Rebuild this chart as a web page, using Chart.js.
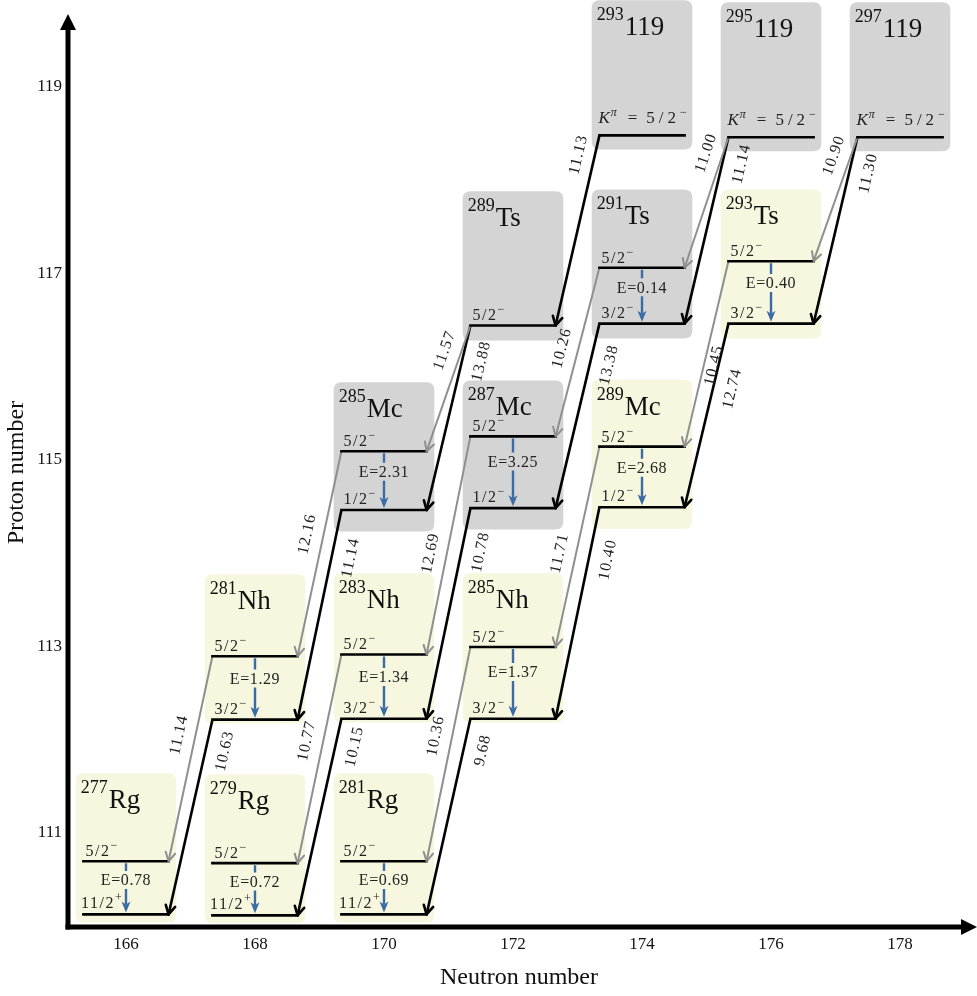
<!DOCTYPE html>
<html><head><meta charset="utf-8">
<script src="https://cdn.jsdelivr.net/npm/chart.js@4.4.1/dist/chart.umd.min.js"></script>
<style>html,body{margin:0;padding:0;background:#fff}canvas{display:block}</style>
</head><body>
<canvas id="c" width="977" height="996"></canvas>
<script>
// ---------------- data ----------------
const nuclide       = ['277Rg','279Rg','281Rg','281Nh','283Nh','285Nh','285Mc','287Mc','289Mc','289Ts','291Ts','293Ts','293119','295119','297119'];
const massNumber    = [277,279,281,281,283,285,285,287,289,289,291,293,293,295,297];
const elementSymbol = ['Rg','Rg','Rg','Nh','Nh','Nh','Mc','Mc','Mc','Ts','Ts','Ts','119','119','119'];
const protonNumber  = [111,111,111,113,113,113,115,115,115,117,117,117,119,119,119];
const neutronNumber = [166,168,170,168,170,172,170,172,174,172,174,176,174,176,178];
// level positions in the scheme (read on the proton-number axis)
const upperLevel = [110.69,110.67,110.69,112.89,112.91,112.99,115.09,115.25,115.14,null,117.06,117.13,null,null,null];
const lowerLevel = [110.12,110.11,110.12,112.21,112.22,112.22,114.46,114.48,114.49,116.44,116.46,116.46,118.48,118.46,118.46];
const upperSpin  = ['5/2−','5/2−','5/2−','5/2−','5/2−','5/2−','5/2−','5/2−','5/2−',null,'5/2−','5/2−',null,null,null];
const lowerSpin  = ['11/2+','11/2+','11/2+','3/2−','3/2−','3/2−','1/2−','1/2−','1/2−','5/2−','3/2−','3/2−','K=5/2−','K=5/2−','K=5/2−'];
const excitationE = ['0.78','0.72','0.69','1.29','1.34','1.37','2.31','3.25','2.68',null,'0.14','0.40',null,null,null];
const observed   = [1,1,1,1,1,1,0,0,1,0,0,1,0,0,0];
// alpha decays
const decayParent   = ['293119','295119','295119','297119','297119','289Ts','289Ts','291Ts','291Ts','293Ts','293Ts','285Mc','285Mc','287Mc','287Mc','289Mc','289Mc','281Nh','281Nh','283Nh','283Nh','285Nh','285Nh'];
const decayDaughter = ['289Ts','291Ts','291Ts','293Ts','293Ts','285Mc','285Mc','287Mc','287Mc','289Mc','289Mc','281Nh','281Nh','283Nh','283Nh','285Nh','285Nh','277Rg','277Rg','279Rg','279Rg','281Rg','281Rg'];
const decayToLevel  = ['lower','upper','lower','upper','lower','upper','lower','upper','lower','upper','lower','upper','lower','upper','lower','upper','lower','upper','lower','upper','lower','upper','lower'];
const qAlpha        = [11.13,11.00,11.14,10.90,11.30,11.57,13.88,10.26,13.38,10.45,12.74,12.16,11.14,12.69,10.78,11.71,10.40,11.14,10.63,10.77,10.15,10.36,9.68];
const xTicks = [166,168,170,172,174,176,178];
const yTicks = [111,113,115,117,119];

// ---------------- layout / style ----------------
const serif = '"Liberation Serif","Times New Roman",serif';
const LVL_HALF = 0.66, BOX_HALF = 0.78, BOX_H = 1.6;
const BOX_PAD = {111:0.086, 113:0.04, 115:0.23, 117:0.16, 119:0.15}; // gap below ground level, per row
const GRAY_LINE = '#8f8f8f', BLUE = '#3b6ba4', BOX_GRAY = '#d4d4d4', BOX_YELLOW = '#f7f6de';
// label placement along each decay line: fraction from parent end, side, offset
const qLabelPlace = [[0.12,'L'],[0.16,'L'],[0.12,'R'],[0.19,'L'],[0.17,'R'],
  [0.24,'L'],[0.17,'R'],[0.5,'L'],[0.2,'R'],[0.55,'R',10],[0.33,'R'],
  [0.42,'L'],[0.21,'R'],[0.55,'L'],[0.19,'R'],[0.55,'L'],[0.23,'R'],
  [0.4,'L'],[0.14,'R'],[0.43,'L'],[0.12,'R'],[0.43,'L'],[0.14,'R']];

const idx = n => nuclide.indexOf(n);
function decayGeom(k){
  const ip = idx(decayParent[k]), id = idx(decayDaughter[k]);
  const toUpper = decayToLevel[k] === 'upper';
  const py = (toUpper && upperLevel[ip] != null) ? upperLevel[ip] : lowerLevel[ip];
  const dy = toUpper ? upperLevel[id] : lowerLevel[id];
  return {x0: neutronNumber[ip]-LVL_HALF, y0: py, x1: neutronNumber[id]+LVL_HALF, y1: dy, toUpper};
}
function boxOf(i){
  const bottom = lowerLevel[i] - BOX_PAD[protonNumber[i]];
  return {l: neutronNumber[i]-BOX_HALF, r: neutronNumber[i]+BOX_HALF, b: bottom, t: bottom + BOX_H};
}

const datasets = [];
nuclide.forEach((n,i) => {
  [upperLevel[i], lowerLevel[i]].forEach(v => {
    if (v == null) return;
    datasets.push({data:[{x:neutronNumber[i]-LVL_HALF,y:v},{x:neutronNumber[i]+LVL_HALF,y:v}],
      showLine:true, borderColor:'#000', borderWidth:2.6, pointRadius:0, clip:false, borderCapStyle:'square'});
  });
});
decayParent.forEach((p,k) => {
  const g = decayGeom(k);
  datasets.push({data:[{x:g.x0,y:g.y0},{x:g.x1,y:g.y1}], showLine:true,
    borderColor: g.toUpper ? GRAY_LINE : '#000', borderWidth: g.toUpper ? 2 : 2.6, pointRadius:0, clip:false});
});

function setLS(ctx,v){ if ('letterSpacing' in ctx) ctx.letterSpacing = v+'px'; }
function drawRich(ctx, parts, x, y, align){
  let w = 0;
  parts.forEach(p => { ctx.font = p.font; setLS(ctx,p.ls||0); p.w = ctx.measureText(p.t).width; w += p.w + (p.pre||0); });
  let cx = align === 'center' ? x - w/2 : x;
  ctx.textAlign = 'left'; ctx.textBaseline = 'alphabetic';
  parts.forEach(p => { cx += (p.pre||0); ctx.font = p.font; setLS(ctx,p.ls||0); ctx.fillText(p.t, cx, y + (p.dy||0)); cx += p.w; });
  setLS(ctx,0);
  return w;
}
function spinParts(label){
  if (label.startsWith('K=')) {
    return [{t:'K',font:'italic 17px '+serif},{t:'π',font:'italic 12px '+serif,dy:-7,pre:1},
      {t:'=',font:'17px '+serif,pre:11},{t:'5/2',font:'17px '+serif,pre:9,ls:4},{t:'−',font:'12px '+serif,dy:-7}];
  }
  return [{t:label.slice(0,-1),font:'16px '+serif,ls:1.5},{t:label.slice(-1),font:'12px '+serif,dy:-7}];
}
function roundRect(ctx,x,y,w,h,r){
  ctx.beginPath(); ctx.moveTo(x+r,y); ctx.lineTo(x+w-r,y); ctx.quadraticCurveTo(x+w,y,x+w,y+r);
  ctx.lineTo(x+w,y+h-r); ctx.quadraticCurveTo(x+w,y+h,x+w-r,y+h); ctx.lineTo(x+r,y+h);
  ctx.quadraticCurveTo(x,y+h,x,y+h-r); ctx.lineTo(x,y+r); ctx.quadraticCurveTo(x,y,x+r,y); ctx.closePath();
}

const diagram = {
  id:'diagram',
  beforeDatasetsDraw(chart){
    const {ctx, scales:{x,y}} = chart;
    ctx.save();
    nuclide.forEach((n,i) => {
      const bx = boxOf(i);
      const l = x.getPixelForValue(bx.l), r = x.getPixelForValue(bx.r);
      const t = y.getPixelForValue(bx.t), b = y.getPixelForValue(bx.b);
      ctx.fillStyle = observed[i] ? BOX_YELLOW : BOX_GRAY;
      roundRect(ctx,l,t,r-l,b-t,8); ctx.fill();
    });
    ctx.restore();
  },
  afterDatasetsDraw(chart){
    const {ctx, scales:{x,y}} = chart;
    ctx.save();
    // decay arrowheads + Q labels
    decayParent.forEach((p,k) => {
      const g = decayGeom(k);
      const X0 = x.getPixelForValue(g.x0), Y0 = y.getPixelForValue(g.y0);
      const X1 = x.getPixelForValue(g.x1), Y1 = y.getPixelForValue(g.y1);
      const col = g.toUpper ? GRAY_LINE : '#000';
      const ang = Math.atan2(Y1-Y0, X1-X0);
      ctx.strokeStyle = col; ctx.lineWidth = g.toUpper ? 2 : 2.6; ctx.lineCap='round';
      ctx.beginPath();
      [0.5,-0.5].forEach(s => { ctx.moveTo(X1,Y1); ctx.lineTo(X1 - 10*Math.cos(ang+s), Y1 - 10*Math.sin(ang+s)); });
      ctx.stroke();
      // label
      const [tf, side, o] = qLabelPlace[k];
      const a = Math.atan2(Y0-Y1, X0-X1); // reading upward
      const off = side === 'L' ? (o||16) : -(o||19);
      const px = X0 + (X1-X0)*tf + Math.sin(a)*off, py = Y0 + (Y1-Y0)*tf - Math.cos(a)*off;
      ctx.save(); ctx.translate(px,py); ctx.rotate(a);
      ctx.fillStyle = '#222'; ctx.font = '16px '+serif; setLS(ctx,1);
      ctx.textAlign='center'; ctx.textBaseline='middle'; ctx.fillText(qAlpha[k].toFixed(2),0,0);
      setLS(ctx,0); ctx.restore();
    });
    // nuclide labels, spins, internal transitions
    nuclide.forEach((n,i) => {
      const bx = boxOf(i);
      const bl = x.getPixelForValue(bx.l), bt = y.getPixelForValue(bx.t);
      const xc = x.getPixelForValue(neutronNumber[i]);
      const ll = x.getPixelForValue(neutronNumber[i]-LVL_HALF);
      ctx.fillStyle = '#111';
      drawRich(ctx,[{t:String(massNumber[i]),font:'18px '+serif,dy:-15},{t:elementSymbol[i],font:'27px '+serif,pre:1}], bl+5, bt+35, 'left');
      ctx.fillStyle = '#222';
      if (upperLevel[i] != null) drawRich(ctx, spinParts(upperSpin[i]), ll+18, y.getPixelForValue(upperLevel[i])-5, 'center');
      const lab = lowerSpin[i];
      if (lab.startsWith('K=')) drawRich(ctx, spinParts(lab), ll-1, y.getPixelForValue(lowerLevel[i])-12, 'left');
      else drawRich(ctx, spinParts(lab), ll+18, y.getPixelForValue(lowerLevel[i])-6, 'center');
      if (excitationE[i] != null) {
        const yu = y.getPixelForValue(upperLevel[i]), yl = y.getPixelForValue(lowerLevel[i]);
        const ty = yu + 0.35*(yl-yu);
        ctx.strokeStyle = BLUE; ctx.fillStyle = BLUE; ctx.lineWidth = 2.4; ctx.lineCap='butt';
        ctx.beginPath(); ctx.moveTo(xc, yu+2); ctx.lineTo(xc, ty-9); ctx.moveTo(xc, ty+9); ctx.lineTo(xc, yl-10); ctx.stroke();
        ctx.beginPath(); ctx.moveTo(xc, yl-2); ctx.lineTo(xc-4.5, yl-13); ctx.lineTo(xc, yl-10); ctx.lineTo(xc+4.5, yl-13); ctx.closePath(); ctx.fill();
        ctx.fillStyle = '#222'; ctx.font = '16px '+serif; setLS(ctx,0.6);
        ctx.textAlign='center'; ctx.textBaseline='middle'; ctx.fillText('E='+excitationE[i], xc, ty+1); setLS(ctx,0);
      }
    });
    ctx.restore();
  },
  afterDraw(chart){
    const {ctx, chartArea:ca} = chart;
    ctx.save(); ctx.strokeStyle='#000'; ctx.fillStyle='#000'; ctx.lineWidth=5; ctx.lineCap='butt';
    ctx.beginPath(); ctx.moveTo(ca.left, ca.bottom+2.5); ctx.lineTo(ca.left, ca.top+10); ctx.stroke();
    ctx.beginPath(); ctx.moveTo(ca.left, ca.top-4); ctx.lineTo(ca.left-8, ca.top+12); ctx.lineTo(ca.left+8, ca.top+12); ctx.closePath(); ctx.fill();
    ctx.beginPath(); ctx.moveTo(ca.left-2.5, ca.bottom); ctx.lineTo(chart.width-12, ca.bottom); ctx.stroke();
    ctx.beginPath(); ctx.moveTo(chart.width, ca.bottom); ctx.lineTo(chart.width-16, ca.bottom-8); ctx.lineTo(chart.width-16, ca.bottom+8); ctx.closePath(); ctx.fill();
    ctx.restore();
  }
};

new Chart(document.getElementById('c').getContext('2d'), {
  type:'scatter',
  data:{datasets},
  options:{
    responsive:false, animation:false, devicePixelRatio:1,
    layout:{padding:{top:18,right:7,left:0,bottom:0}},
    plugins:{legend:{display:false}, tooltip:{enabled:false}},
    scales:{
      x:{type:'linear', min:165.101, max:179.085,
        afterFit(s){ s.height = 69; },
        afterBuildTicks(s){ s.ticks = xTicks.map(v => ({value:v})); },
        grid:{display:false, drawTicks:false}, border:{display:false},
        ticks:{padding:7, color:'#111', font:{family:serif,size:17}, callback:v => String(v)},
        title:{display:true, text:'Neutron number', color:'#111', font:{family:serif,size:24}, padding:{top:0,bottom:4}}},
      y:{type:'linear', min:109.985, max:119.74,
        afterFit(s){ s.width = 68; },
        afterBuildTicks(s){ s.ticks = yTicks.map(v => ({value:v})); },
        grid:{display:false, drawTicks:false}, border:{display:false},
        ticks:{padding:6, color:'#111', font:{family:serif,size:17}, callback:v => String(v)},
        title:{display:true, text:'Proton number', color:'#111', font:{family:serif,size:24}, padding:{top:2,bottom:0}}}
    }
  },
  plugins:[diagram]
});
</script>
</body></html>
